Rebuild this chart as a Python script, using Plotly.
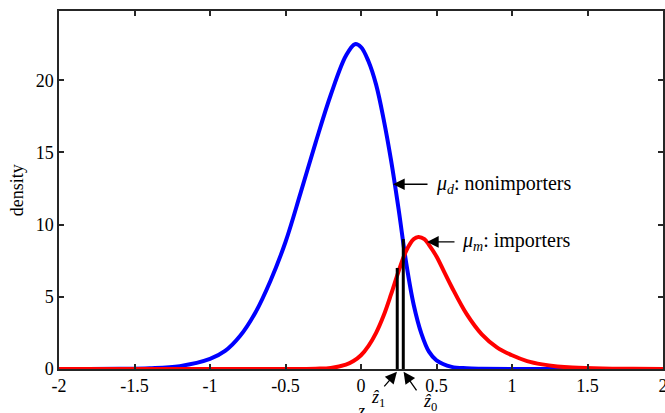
import plotly.graph_objects as go

# Blue: nonimporters density
blue_x = [-2.0, -1.6, -1.4, -1.2, -1.0, -0.9, -0.8, -0.7, -0.6, -0.5, -0.4, -0.3, -0.2, -0.1,
          -0.04, 0.0, 0.05, 0.1, 0.15, 0.2, 0.25, 0.3, 0.35, 0.4, 0.45, 0.5, 0.6, 0.7, 0.8, 1.0, 1.5, 2.0]
blue_y = [0.0, 0.01, 0.05, 0.2, 0.7, 1.25, 2.3, 3.9, 6.1, 8.8, 12.2, 15.7, 19.0, 21.7,
          22.5, 22.3, 21.3, 19.7, 17.3, 14.4, 11.0, 7.3, 4.4, 2.45, 1.2, 0.6, 0.15, 0.05, 0.02, 0.0, 0.0, 0.0]

# Red: importers density
red_x = [-2.0, -1.0, -0.5, -0.3, -0.2, -0.1, -0.05, 0.0, 0.05, 0.1, 0.15, 0.2, 0.25, 0.3, 0.35, 0.38, 0.42,
         0.45, 0.5, 0.55, 0.6, 0.7, 0.8, 0.9, 1.0, 1.1, 1.2, 1.3, 1.4, 1.6, 1.8, 2.0]
red_y = [0.0, 0.0, 0.0, 0.02, 0.07, 0.3, 0.55, 0.95, 1.6, 2.5, 3.7, 5.2, 6.8, 8.2, 9.0, 9.15, 9.0,
         8.6, 7.8, 6.75, 5.7, 3.8, 2.4, 1.5, 0.95, 0.55, 0.32, 0.18, 0.1, 0.03, 0.01, 0.0]

# Thresholds z1_hat, z0_hat and their heights
cut_x = [0.24, 0.28]
cut_h = [7.0, 9.0]
cut_labels = ["<i>ẑ</i><sub>1</sub>", "<i>ẑ</i><sub>0</sub>"]

x_ticks = [-2, -1.5, -1, -0.5, 0, 0.5, 1, 1.5, 2]
x_ticklabels = ["-2", "-1.5", "-1", "-0.5", "0", "0.5", "1", "1.5", "2"]
y_ticks = [0, 5, 10, 15, 20]

FONT = "Liberation Serif, DejaVu Serif, serif"
AX = "#262626"
FS = 18
FA = 20

fig = go.Figure()
fig.add_trace(go.Scatter(x=blue_x, y=blue_y, mode="lines", line=dict(color="#0000ff", width=4, shape="spline"),
                         showlegend=False))
fig.add_trace(go.Scatter(x=red_x, y=red_y, mode="lines", line=dict(color="#ff0000", width=4, shape="spline"),
                         showlegend=False))
for cx, ch in zip(cut_x, cut_h):
    fig.add_trace(go.Scatter(x=[cx, cx], y=[0, ch], mode="lines", line=dict(color="black", width=3),
                             showlegend=False))

arrow = dict(showarrow=True, arrowhead=2, arrowsize=1.8, arrowwidth=1.3, arrowcolor="black", text="")

# curve annotations
fig.add_annotation(x=0.212, y=12.8, ax=36, ay=0, **arrow)
fig.add_annotation(x=0.485, y=12.8, text="<i>μ</i><sub><i>d</i></sub>: nonimporters", showarrow=False,
                   xanchor="left", yanchor="middle", font=dict(family=FONT, size=FA, color="black"))
fig.add_annotation(x=0.437, y=8.8, ax=29, ay=0, **arrow)
fig.add_annotation(x=0.655, y=8.8, text="<i>μ</i><sub><i>m</i></sub>: importers", showarrow=False,
                   xanchor="left", yanchor="middle", font=dict(family=FONT, size=FA, color="black"))

# threshold arrows below axis (paper y so they are not hidden)
fig.add_annotation(x=cut_x[0] - 0.002, y=-0.008, yref="paper", ax=-14, ay=16, **arrow)
fig.add_annotation(x=cut_x[1] + 0.002, y=-0.008, yref="paper", ax=14, ay=20, **arrow)
fig.add_annotation(x=0.11, y=-0.083, yref="paper", text=cut_labels[0], showarrow=False,
                   xanchor="center", yanchor="middle", font=dict(family=FONT, size=FS, color="black"))
fig.add_annotation(x=0.455, y=-0.093, yref="paper", text=cut_labels[1], showarrow=False,
                   xanchor="center", yanchor="middle", font=dict(family=FONT, size=FS, color="black"))
# x-axis title (mostly cut off at bottom)
fig.add_annotation(x=0.0, y=-0.117, yref="paper", text="<i>z</i>", showarrow=False,
                   xanchor="center", yanchor="middle", font=dict(family=FONT, size=FS, color="black"))
# y-axis title
fig.add_annotation(x=-0.069, y=0.5, xref="paper", yref="paper", text="density", textangle=-90,
                   showarrow=False, xanchor="center", yanchor="middle",
                   font=dict(family=FONT, size=FS, color="black"))

fig.update_layout(
    width=665, height=413,
    margin=dict(l=59, r=2, t=11, b=44, autoexpand=False),
    paper_bgcolor="white", plot_bgcolor="white",
    font=dict(family=FONT, size=FS, color="black"),
)
fig.update_xaxes(range=[-2, 2], tickvals=x_ticks, ticktext=x_ticklabels, ticks="inside", ticklen=5,
                 tickwidth=1.5, tickcolor=AX, showline=True, linecolor=AX, linewidth=1.5, mirror="allticks",
                 showgrid=False, zeroline=False, automargin=False, ticklabeloverflow="allow",
                 tickfont=dict(family=FONT, size=FS, color="black"))
fig.update_yaxes(range=[0, 24.8], tickvals=y_ticks, ticks="inside", ticklen=5, tickwidth=1.5, tickcolor=AX,
                 showline=True, linecolor=AX, linewidth=1.5, mirror="allticks", showgrid=False, zeroline=False,
                 automargin=False, ticklabeloverflow="allow",
                 tickfont=dict(family=FONT, size=FS, color="black"))

fig.write_html("out.html", config={"displayModeBar": False},
               post_script="document.body.style.margin='0';document.body.style.overflow='hidden';")
